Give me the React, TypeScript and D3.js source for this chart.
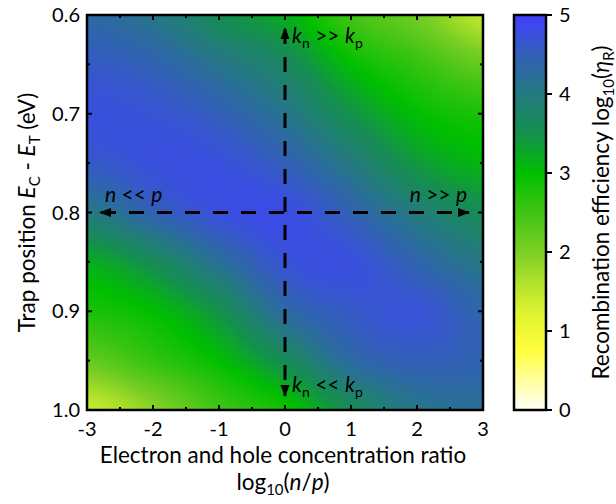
import React, { useMemo } from "react";
import * as d3 from "d3";

// ---- data ----
const xTicks = [-3, -2, -1, 0, 1, 2, 3];
const yTicks = [0.6, 0.7, 0.8, 0.9, 1.0];
const cbTicks = [0, 1, 2, 3, 4, 5];
const gridX = [-3, -2, -1, 0, 1, 2, 3]; // log10(n/p)
const gridY = [0.6, 0.65, 0.7, 0.75, 0.8, 0.85, 0.9, 0.95, 1.0]; // Ec - Et (eV)
// log10(eta_R), one row per gridY value, one column per gridX value
const etaRows = [
  [4.35, 4.1, 3.6, 3.2, 2.5, 2.1, 1.5],
  [4.6, 4.45, 4.1, 3.7, 3.0, 2.6, 2.2],
  [4.75, 4.7, 4.5, 4.1, 3.5, 3.0, 2.8],
  [4.6, 4.75, 4.75, 4.5, 4.0, 3.4, 3.1],
  [4.0, 4.45, 4.75, 4.8, 4.45, 3.95, 3.6],
  [3.2, 3.6, 4.2, 4.7, 4.75, 4.4, 4.05],
  [2.8, 3.0, 3.5, 4.3, 4.6, 4.7, 4.4],
  [2.2, 2.6, 3.0, 3.6, 4.3, 4.5, 4.45],
  [1.4, 1.9, 2.5, 2.9, 3.6, 4.1, 4.2],
];
const cbStops = [0, 0.8, 1.3, 2, 2.5, 3, 3.5, 4, 4.5, 5];
const cbColors = ["#fffffa", "#ffff33", "#d8f032", "#7ccf24", "#40c414", "#00bf00", "#14904c", "#247a80", "#3260b8", "#4040ff"];

// ---- layout ----
const W = 616, H = 504;
const PL = 87, PR = 483, PT = 15, PB = 410;
const CBL = 514, CBR = 546;
const FONT = "Lato, 'Open Sans', sans-serif";
const FS_TICK = 20;
const FS_TITLE = 22.5;
const FS_ANN = 21;

function cr(p0: number, p1: number, p2: number, p3: number, t: number) {
  return 0.5 * (2 * p1 + (-p0 + p2) * t + (2 * p0 - 5 * p1 + 4 * p2 - p3) * t * t + (-p0 + 3 * p1 - 3 * p2 + p3) * t * t * t);
}
function sample(u: number, v: number) {
  const nx = gridX.length, ny = gridY.length;
  const i = Math.min(Math.max(Math.floor(u), 0), nx - 2);
  const j = Math.min(Math.max(Math.floor(v), 0), ny - 2);
  const tu = u - i, tv = v - j;
  const ci = (k: number) => Math.min(Math.max(k, 0), nx - 1);
  const cj = (k: number) => Math.min(Math.max(k, 0), ny - 1);
  const rowVals = [-1, 0, 1, 2].map((dj) => {
    const r = etaRows[cj(j + dj)];
    return cr(r[ci(i - 1)], r[ci(i)], r[ci(i + 1)], r[ci(i + 2)], tu);
  });
  return cr(rowVals[0], rowVals[1], rowVals[2], rowVals[3], tv);
}

function Arrow({ x, y, dir }: { x: number; y: number; dir: "up" | "down" | "left" | "right" }) {
  const L = 12, w = 4.5;
  let d = "";
  if (dir === "up") d = `M${x},${y} L${x - w},${y + L} L${x + w},${y + L} Z`;
  if (dir === "down") d = `M${x},${y} L${x - w},${y - L} L${x + w},${y - L} Z`;
  if (dir === "left") d = `M${x},${y} L${x + L},${y - w} L${x + L},${y + w} Z`;
  if (dir === "right") d = `M${x},${y} L${x - L},${y - w} L${x - L},${y + w} Z`;
  return <path d={d} fill="#000" />;
}

export default function App() {
  const x = d3.scaleLinear().domain([-3, 3]).range([PL, PR]);
  const y = d3.scaleLinear().domain([0.6, 1.0]).range([PT, PB]);
  const cbY = d3.scaleLinear().domain([0, 5]).range([PB, PT]);
  const color = d3.scaleLinear<string>().domain(cbStops).range(cbColors).interpolate(d3.interpolateRgb).clamp(true);
  const ux = d3.scaleLinear().domain(d3.extent(gridX) as [number, number]).range([0, gridX.length - 1]);
  const uy = d3.scaleLinear().domain(d3.extent(gridY) as [number, number]).range([0, gridY.length - 1]);

  const heat = useMemo(() => {
    const w = PR - PL, h = PB - PT;
    const c = document.createElement("canvas");
    c.width = w; c.height = h;
    const ctx = c.getContext("2d")!;
    const img = ctx.createImageData(w, h);
    for (let py = 0; py < h; py++) {
      const v = uy(y.invert(PT + py + 0.5));
      for (let px = 0; px < w; px++) {
        const u = ux(x.invert(PL + px + 0.5));
        const val = sample(u, v);
        const col = d3.rgb(color(val));
        const k = (py * w + px) * 4;
        img.data[k] = col.r; img.data[k + 1] = col.g; img.data[k + 2] = col.b; img.data[k + 3] = 255;
      }
    }
    ctx.putImageData(img, 0, 0);
    return c.toDataURL();
  }, []);

  const cbGrad = useMemo(() => {
    const stops = d3.range(0, 5.001, 0.25);
    return stops.map((s) => ({ off: (s / 5) * 100, c: color(s) }));
  }, []);

  const xMinor = d3.range(-3, 3.001, 0.5);
  const yMinor = d3.range(0.6, 1.0001, 0.05);
  const isMajorX = (v: number) => Math.abs(v - Math.round(v)) < 1e-6;
  const isMajorY = (v: number) => Math.abs(v * 10 - Math.round(v * 10)) < 1e-6;

  const ann = { fontFamily: FONT, fontSize: FS_ANN, fill: "#000" } as const;
  const subA = 14;
  const subT = 15;

  return (
    <svg width={W} height={H} style={{ position: "absolute", left: 0, top: 0, fontFamily: FONT }}>
      <defs>
        <linearGradient id="cbg" x1="0" y1="1" x2="0" y2="0">
          {cbGrad.map((s, i) => <stop key={i} offset={`${s.off}%`} stopColor={s.c} />)}
        </linearGradient>
      </defs>
      <rect width={W} height={H} fill="#fff" />
      <image href={heat} x={PL} y={PT} width={PR - PL} height={PB - PT} preserveAspectRatio="none" />

      {/* ticks (inward) */}
      {xMinor.map((v, i) => {
        const L = isMajorX(v) ? 5 : 3;
        return (
          <g key={"xt" + i} stroke="#000" strokeWidth={2}>
            <line x1={x(v)} x2={x(v)} y1={PB} y2={PB - L} />
            <line x1={x(v)} x2={x(v)} y1={PT} y2={PT + L} />
          </g>
        );
      })}
      {yMinor.map((v, i) => {
        const L = isMajorY(v) ? 5 : 3;
        return (
          <g key={"yt" + i} stroke="#000" strokeWidth={2}>
            <line x1={PL} x2={PL + L} y1={y(v)} y2={y(v)} />
            <line x1={PR} x2={PR - L} y1={y(v)} y2={y(v)} />
          </g>
        );
      })}
      <rect x={PL} y={PT} width={PR - PL} height={PB - PT} fill="none" stroke="#000" strokeWidth={2.5} />

      {/* tick labels */}
      {xTicks.map((v) => (
        <text key={"xl" + v} x={x(v)} y={436} textAnchor="middle" fontSize={FS_TICK}>{v}</text>
      ))}
      {yTicks.map((v) => (
        <text key={"yl" + v} x={80} y={y(v) + 7} textAnchor="end" fontSize={FS_TICK}>{v.toFixed(1)}</text>
      ))}

      {/* axis titles */}
      <text x={(PL + PR) / 2 - 2} y={463} textAnchor="middle" fontSize={FS_TITLE}>Electron and hole concentration ratio</text>
      <text x={(PL + PR) / 2 - 2} y={490} textAnchor="middle" fontSize={FS_TITLE}>
        log<tspan fontSize={subT} dy={5}>10</tspan><tspan dy={-5}>(</tspan><tspan fontStyle="italic">n</tspan>/<tspan fontStyle="italic">p</tspan>)
      </text>
      <text transform={`translate(35,${(PT + PB) / 2}) rotate(-90)`} textAnchor="middle" fontSize={FS_TITLE}>
        Trap position <tspan fontStyle="italic">E</tspan><tspan fontSize={subT} dy={5}>C</tspan><tspan dy={-5}> - </tspan><tspan fontStyle="italic">E</tspan><tspan fontSize={subT} dy={5}>T</tspan><tspan dy={-5}> (eV)</tspan>
      </text>

      {/* dashed guides with arrows */}
      <line x1={x(0)} x2={x(0)} y1={PT + 14} y2={PB - 14} stroke="#000" strokeWidth={3} strokeDasharray="15 13" />
      <line x1={PL + 14} x2={PR - 14} y1={y(0.8)} y2={y(0.8)} stroke="#000" strokeWidth={3} strokeDasharray="15 13" />
      <Arrow x={x(0)} y={PT + 12} dir="up" />
      <Arrow x={x(0)} y={PB - 13} dir="down" />
      <Arrow x={PL + 12} y={y(0.8)} dir="left" />
      <Arrow x={PR - 13} y={y(0.8)} dir="right" />

      <text x={292} y={43} {...ann}>
        <tspan fontStyle="italic">k</tspan><tspan fontSize={subA} dy={5}>n</tspan><tspan dy={-5}> &gt;&gt; </tspan><tspan fontStyle="italic">k</tspan><tspan fontSize={subA} dy={5}>p</tspan>
      </text>
      <text x={292} y={392} {...ann}>
        <tspan fontStyle="italic">k</tspan><tspan fontSize={subA} dy={5}>n</tspan><tspan dy={-5}> &lt;&lt; </tspan><tspan fontStyle="italic">k</tspan><tspan fontSize={subA} dy={5}>p</tspan>
      </text>
      <text x={105} y={202} {...ann}>
        <tspan fontStyle="italic">n</tspan> &lt;&lt; <tspan fontStyle="italic">p</tspan>
      </text>
      <text x={467} y={202} textAnchor="end" {...ann}>
        <tspan fontStyle="italic">n</tspan> &gt;&gt; <tspan fontStyle="italic">p</tspan>
      </text>

      {/* colour bar */}
      <rect x={CBL} y={PT} width={CBR - CBL} height={PB - PT} fill="url(#cbg)" stroke="#000" strokeWidth={2.5} />
      {cbTicks.map((v) => (
        <g key={"cb" + v}>
          <line x1={CBR} x2={CBR + 6} y1={cbY(v)} y2={cbY(v)} stroke="#000" strokeWidth={2} />
          <text x={559} y={cbY(v) + 7} fontSize={FS_TICK}>{v}</text>
        </g>
      ))}
      <text transform={`translate(609,${(PT + PB) / 2}) rotate(-90)`} textAnchor="middle" fontSize={FS_TITLE}>
        Recombination efficiency log<tspan fontSize={subT} dy={5}>10</tspan><tspan dy={-5}>(</tspan><tspan fontStyle="italic">η</tspan><tspan fontSize={subT} dy={5}>R</tspan><tspan dy={-5}>)</tspan>
      </text>
    </svg>
  );
}
